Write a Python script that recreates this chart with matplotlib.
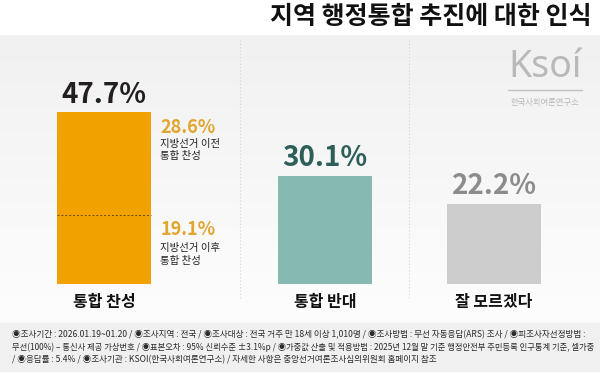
import numpy as np
import matplotlib.pyplot as plt
from matplotlib.colors import LinearSegmentedColormap

plt.rcParams['font.family'] = ['Noto Sans CJK KR', 'DejaVu Sans']

# data
categories = ["통합 찬성", "통합 반대", "잘 모르겠다"]
values = [47.7, 30.1, 22.2]
split_before = 28.6
split_after = 19.1
split_labels = ["지방선거 이전\n통합 찬성", "지방선거 이후\n통합 찬성"]
title = "지역 행정통합 추진에 대한 인식"
footer = [
    "◉조사기간 : 2026.01.19~01.20 / ◉조사지역 : 전국 / ◉조사대상 : 전국 거주 만 18세 이상 1,010명 / ◉조사방법 : 무선 자동응답(ARS) 조사 / ◉피조사자선정방법 :",
    "무선(100%) – 통신사 제공 가상번호 / ◉표본오차 : 95% 신뢰수준 ±3.1%p / ◉가중값 산출 및 적용방법 : 2025년 12월 말 기준 행정안전부 주민등록 인구통계 기준, 셀가중",
    "/ ◉응답률 : 5.4% / ◉조사기관 : KSOI(한국사회여론연구소) / 자세한 사항은 중앙선거여론조사심의위원회 홈페이지 참조",
]

# layout (pixels)
W, H = 600, 373
xpos = [104, 325, 494]
bar_w = 94
bar_colors = ["#f2a200", "#87b9b3", "#cccccc"]
val_colors = ["#231f20", "#2c5f59", "#8c8c8c"]

fig = plt.figure(figsize=(6, 3.73), dpi=100)
fig.patch.set_facecolor("white")

# background panels
bg = fig.add_axes([0, 0, 1, 1])
bg.set_xlim(0, W)
bg.set_ylim(H, 0)
bg.axis("off")
grad = np.linspace(0, 1, 100).reshape(-1, 1)
cm = LinearSegmentedColormap.from_list("g", ["#f1f1f1", "#fdfdfd"])
bg.imshow(grad, extent=[0, W, 323, 35], cmap=cm, aspect="auto", origin="upper", zorder=0)
bg.add_patch(plt.Rectangle((0, 323), W, 48, color="#f0f0f0", zorder=0))
for sx in [240, 409]:
    bg.plot([sx, sx], [40, 300], color="#d2d2d2", lw=0.8, ls=(0, (1, 2)), zorder=1)

bg.text(592, 17, title, ha="right", va="center", fontsize=18, fontweight="bold", color="#111111")

# logo
bg.text(545, 67, "Ksoí", ha="center", va="center", fontsize=27, fontweight="medium",
        color="#b9b9b9", family=["Noto Sans", "DejaVu Sans"])
bg.plot([508, 582], [90, 90], color="#c4c4c4", lw=1)
bg.text(545, 102, "한국사회여론연구소", ha="center", va="center", fontsize=6, color="#b9b9b9")

# footer lines, shrunk to fit the width
renderer = fig.canvas.get_renderer()
for i, line in enumerate(footer):
    t = bg.text(12, 335 + i * 12.3, line, ha="left", va="center", fontsize=6.2,
                fontweight="medium", color="#2a2a2a")
    w = t.get_window_extent(renderer).width
    if w > 578:
        t.set_fontsize(6.2 * 578 / w)

# bars
ax = fig.add_axes([0, 1 - 284 / H, 1, 68 * 3.6 / H])
ax.set_xlim(0, W)
ax.set_ylim(0, 68)
ax.axis("off")
ax.patch.set_alpha(0)
ax.bar(xpos, values, width=bar_w, color=bar_colors, zorder=2)
ax.plot([xpos[0] - bar_w / 2, xpos[0] + bar_w / 2], [split_after, split_after],
        color="#6b4a00", lw=0.7, ls=(0, (2, 2)), zorder=3)

for x, v, c in zip(xpos, values, val_colors):
    ax.text(x, v + 1.0, f"{v}%", ha="center", va="bottom", fontsize=20,
            fontweight="bold", color=c)

lx = xpos[0] + bar_w / 2 + 9
ax.text(lx, values[0] - 4.3, f"{split_before}%", ha="left", va="center", fontsize=13,
        fontweight="bold", color="#e1a530")
ax.text(lx, values[0] - 7.3, split_labels[0], ha="left", va="top", fontsize=7.5,
        fontweight="medium", color="#222222", linespacing=1.35)
ax.text(lx, split_after - 4, f"{split_after}%", ha="left", va="center", fontsize=13,
        fontweight="bold", color="#e1a530")
ax.text(lx, split_after - 7.6, split_labels[1], ha="left", va="top", fontsize=7.5,
        fontweight="medium", color="#222222", linespacing=1.35)

for x, c in zip(xpos, categories):
    ax.text(x, -5, c, ha="center", va="center", fontsize=11.5, fontweight="bold", color="#111111")

fig.savefig("out.png", dpi=100)
